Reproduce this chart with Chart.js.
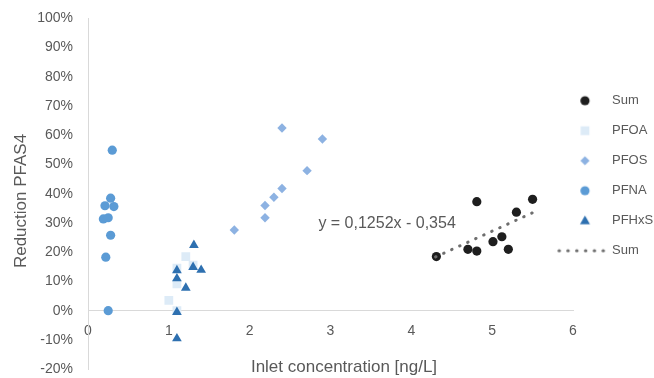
<!DOCTYPE html>
<html>
<head>
<meta charset="utf-8">
<script src="https://cdn.jsdelivr.net/npm/chart.js@4/dist/chart.umd.min.js"></script>
<style>
  html, body { margin: 0; padding: 0; background: #ffffff; }
  #wrap { width: 654px; height: 378px; }
</style>
</head>
<body>
<div id="wrap"><canvas id="c" width="654" height="378"></canvas></div>
<script>
// ---- data ----
const seriesNames = ["Sum", "PFOA", "PFOS", "PFNA", "PFHxS"];
const trendName = "Sum";

const sumX = [4.31, 4.70, 4.81, 4.81, 5.01, 5.12, 5.20, 5.30, 5.50];
const sumY = [0.185, 0.210, 0.204, 0.373, 0.236, 0.253, 0.210, 0.337, 0.381];

const pfoaX = [1.00, 1.10, 1.10, 1.10, 1.21, 1.30];
const pfoaY = [0.035, 0.000, 0.092, 0.146, 0.185, 0.156];

const pfosX = [1.81, 2.19, 2.19, 2.30, 2.40, 2.40, 2.71, 2.90];
const pfosY = [0.276, 0.318, 0.360, 0.388, 0.418, 0.625, 0.479, 0.587];

const pfnaX = [0.19, 0.21, 0.22, 0.25, 0.25, 0.28, 0.28, 0.30, 0.32];
const pfnaY = [0.314, 0.359, 0.183, 0.000, 0.318, 0.385, 0.258, 0.549, 0.356];

const pfhxsX = [1.10, 1.10, 1.10, 1.10, 1.21, 1.30, 1.31, 1.40];
const pfhxsY = [-0.095, -0.005, 0.110, 0.138, 0.078, 0.149, 0.224, 0.139];

const trendX = [4.30, 5.50];
const trendY = [0.184, 0.335];

const equationText = "y = 0,1252x - 0,354";
const equationAt = [2.85, 0.297];

const xTitle = "Inlet concentration [ng/L]";
const yTitle = "Reduction PFAS4";

const xMin = 0, xMax = 6, xStep = 1;
const yMin = -0.2, yMax = 1.0, yStep = 0.1;

// ---- styling ----
const FONT = "'Liberation Sans', Arial, sans-serif";
const TEXT = "#595959";
const AXIS = "#D9D9D9";
const TREND = "#6E6E6E";
const colors = {
  Sum: "#1E1E1E",
  PFOA: "#DDEBF7",
  PFOS: "#8DB2E2",
  PFNA: "#5B9BD5",
  PFHxS: "#2E70B0"
};

function pts(xs, ys) { return xs.map((x, i) => ({ x: x, y: ys[i] })); }

// legend layout
const LEG_LEFT = 550;      // clip/left edge of the legend box
const LEG_PAD = 17;
const LEG_BOX = 38.5;
const LEG_SHIFT = -1.25;   // marker offset from the box centre

function markerCanvas(kind, color) {
  const W = 24, H = 16;
  const c = document.createElement('canvas');
  c.width = W; c.height = H;
  const g = c.getContext('2d');
  const cx = W / 2 + LEG_SHIFT, cy = H / 2;
  g.fillStyle = color;
  g.beginPath();
  if (kind === 'circle') {
    g.arc(cx, cy, 4.6, 0, Math.PI * 2);
  } else if (kind === 'rect') {
    g.rect(cx - 4.4, cy - 4.4, 8.8, 8.8);
  } else if (kind === 'diamond') {
    g.moveTo(cx, cy - 4.6); g.lineTo(cx + 4.6, cy); g.lineTo(cx, cy + 4.6); g.lineTo(cx - 4.6, cy); g.closePath();
  } else if (kind === 'triangle') {
    g.moveTo(cx, cy - 5.2); g.lineTo(cx + 5, cy + 3.6); g.lineTo(cx - 5, cy + 3.6); g.closePath();
  }
  g.fill();
  return c;
}
function lineCanvas(color) {
  const W = 60, H = 16;
  const c = document.createElement('canvas');
  c.width = W; c.height = H;
  const g = c.getContext('2d');
  const cx = W / 2 + LEG_SHIFT;
  g.strokeStyle = color;
  g.lineWidth = 3;
  g.lineCap = 'round';
  g.setLineDash([0.5, 8.3]);
  g.beginPath();
  g.moveTo(cx - 26, H / 2);
  g.lineTo(cx + 19, H / 2);
  g.stroke();
  return c;
}

const legendSpecs = [
  { text: seriesNames[0], style: markerCanvas('circle', colors.Sum), ds: 0 },
  { text: seriesNames[1], style: markerCanvas('rect', colors.PFOA), ds: 1 },
  { text: seriesNames[2], style: markerCanvas('diamond', colors.PFOS), ds: 2 },
  { text: seriesNames[3], style: markerCanvas('circle', colors.PFNA), ds: 3 },
  { text: seriesNames[4], style: markerCanvas('triangle', colors.PFHxS), ds: 4 },
  { text: trendName, style: lineCanvas(TREND), ds: 5 }
];

const legendShift = {
  id: 'legendShift',
  afterLayout(chart) {
    const lg = chart.legend;
    if (lg) { lg.left = LEG_LEFT; lg.width = lg.right - LEG_LEFT; }
  }
};

const textPlugin = {
  id: 'texts',
  afterDraw(chart) {
    const ctx = chart.ctx;
    const xs = chart.scales.x, ys = chart.scales.y;
    ctx.save();
    ctx.fillStyle = TEXT;
    ctx.font = "16px " + FONT;
    ctx.textAlign = 'left';
    ctx.textBaseline = 'middle';
    ctx.fillText(equationText, xs.getPixelForValue(equationAt[0]), ys.getPixelForValue(equationAt[1]));
    ctx.font = "17px " + FONT;
    ctx.textAlign = 'center';
    ctx.fillText(xTitle, 344, 367);
    ctx.translate(21, 201);
    ctx.rotate(-Math.PI / 2);
    ctx.fillText(yTitle, 0, 0);
    ctx.restore();
  }
};

new Chart(document.getElementById('c'), {
  type: 'scatter',
  data: {
    datasets: [
      { label: seriesNames[0], data: pts(sumX, sumY), pointStyle: 'circle', pointRadius: 4.6,
        backgroundColor: colors.Sum, borderColor: colors.Sum, borderWidth: 0, order: 2 },
      { label: seriesNames[1], data: pts(pfoaX, pfoaY), pointStyle: 'rect', pointRadius: 6.2,
        backgroundColor: colors.PFOA, borderColor: colors.PFOA, borderWidth: 0, order: 6 },
      { label: seriesNames[2], data: pts(pfosX, pfosY), pointStyle: 'rectRot', pointRadius: 4.7,
        backgroundColor: colors.PFOS, borderColor: colors.PFOS, borderWidth: 0, order: 5 },
      { label: seriesNames[3], data: pts(pfnaX, pfnaY), pointStyle: 'circle', pointRadius: 4.6,
        backgroundColor: colors.PFNA, borderColor: colors.PFNA, borderWidth: 0, order: 4 },
      { label: seriesNames[4], data: pts(pfhxsX, pfhxsY), pointStyle: 'triangle', pointRadius: 5.6,
        backgroundColor: colors.PFHxS, borderColor: colors.PFHxS, borderWidth: 0, order: 3 },
      { type: 'line', label: trendName, data: pts(trendX, trendY), showLine: true,
        borderColor: TREND, borderWidth: 3, borderDash: [0.5, 8.3], borderCapStyle: 'round',
        pointRadius: 0, fill: false, order: 1 }
    ]
  },
  options: {
    responsive: false,
    animation: false,
    events: [],
    layout: { padding: { left: 0, right: 0, top: 18.3, bottom: 8.8 } },
    plugins: {
      tooltip: { enabled: false },
      legend: {
        display: true,
        position: 'right',
        align: 'start',
        maxWidth: 81,
        title: { display: true, text: ' ', font: { size: 12, family: FONT }, padding: { top: 44.5, bottom: 0 } },
        labels: {
          usePointStyle: true,
          boxWidth: LEG_BOX,
          pointStyleWidth: LEG_BOX,
          padding: LEG_PAD,
          color: TEXT,
          font: { size: 13, family: FONT },
          generateLabels() {
            return legendSpecs.map(s => ({
              text: s.text, pointStyle: s.style, fillStyle: 'rgba(0,0,0,0)', strokeStyle: 'rgba(0,0,0,0)',
              lineWidth: 0, hidden: false, datasetIndex: s.ds, fontColor: TEXT
            }));
          }
        }
      }
    },
    scales: {
      x: {
        type: 'linear',
        position: { y: 0 },
        min: xMin, max: xMax,
        grid: { display: false, drawTicks: false },
        border: { display: true, color: AXIS, width: 1 },
        ticks: { stepSize: xStep, padding: 12, color: TEXT, font: { size: 14, family: FONT } }
      },
      y: {
        type: 'linear',
        position: 'left',
        min: yMin, max: yMax,
        grid: { display: false, drawTicks: false },
        border: { display: true, color: AXIS, width: 1 },
        ticks: {
          stepSize: yStep, padding: 15, color: TEXT, font: { size: 14, family: FONT },
          callback: v => Math.round(v * 100) + '%'
        },
        afterFit(scale) { scale.width = 88; scale.paddingTop = 0; scale.paddingBottom = 0; }
      }
    }
  },
  plugins: [legendShift, textPlugin]
});
</script>
</body>
</html>
